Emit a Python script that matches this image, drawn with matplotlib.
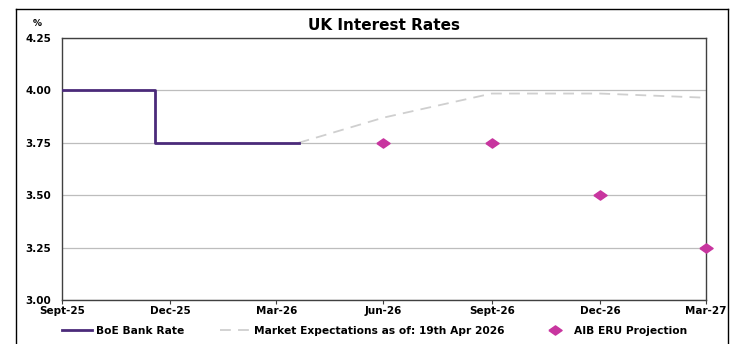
import matplotlib.pyplot as plt
from matplotlib.lines import Line2D
import pandas as pd

# BoE bank rate (actual)
boe_dates = pd.to_datetime(["2025-09-30", "2025-12-18", "2026-04-19"])
boe_rate = [4.00, 3.75, 3.75]

# market implied path as of 19 Apr 2026
mkt_dates = pd.to_datetime(["2026-04-19", "2026-06-30", "2026-09-30", "2026-12-31", "2027-03-31"])
mkt_rate = [3.75, 3.87, 3.985, 3.985, 3.965]

# AIB ERU projections
aib_dates = pd.to_datetime(["2026-06-30", "2026-09-30", "2026-12-31", "2027-03-31"])
aib_rate = [3.75, 3.75, 3.50, 3.25]

tick_dates = pd.to_datetime(["2025-09-30", "2025-12-31", "2026-03-31", "2026-06-30",
                             "2026-09-30", "2026-12-31", "2027-03-31"])
tick_labels = ["Sept-25", "Dec-25", "Mar-26", "Jun-26", "Sept-26", "Dec-26", "Mar-27"]
y_ticks = [3.00, 3.25, 3.50, 3.75, 4.00, 4.25]

plt.rcParams['font.family'] = ['DejaVu Sans']
plt.rcParams['font.weight'] = 'bold'

# flattened diamond like the original marker
flat_diamond = [(-1, 0), (0, 0.7), (1, 0), (0, -0.7), (-1, 0)]

fig = plt.figure(figsize=(7.4, 3.44), dpi=100)
ax = fig.add_axes([62 / 740, 1 - 300 / 344, (706 - 62) / 740, (300 - 38) / 344])

ax.plot(boe_dates, boe_rate, drawstyle='steps-post', color='#4b2a7a', lw=2,
        label='BoE Bank Rate', zorder=3)
ax.plot(mkt_dates, mkt_rate, color='#cfcfcf', lw=1.3, dashes=(6, 4),
        label='Market Expectations as of: 19th Apr 2026', zorder=2)
ax.plot(aib_dates, aib_rate, ls='none', marker=flat_diamond, ms=9.5, color='#c8359f',
        label='AIB ERU Projection', zorder=4, clip_on=False)

ax.set_xlim(tick_dates[0], tick_dates[-1])
ax.set_ylim(3.0, 4.25)
ax.set_xticks(tick_dates)
ax.set_xticklabels(tick_labels, fontsize=7.5, fontweight='bold')
ax.set_yticks(y_ticks)
ax.set_yticklabels([f"{v:.2f}" for v in y_ticks], fontsize=7.5, fontweight='bold')
ax.tick_params(axis='y', length=0, pad=8)
ax.tick_params(axis='x', length=3, width=0.8, color='#404040', pad=1.5)
ax.grid(axis='y', color='#bdbdbd', lw=0.9)
ax.set_axisbelow(True)
for s in ax.spines.values():
    s.set_color('#404040')
    s.set_linewidth(1)

ax.set_title("UK Interest Rates", fontsize=11, fontweight='bold', pad=6)
fig.text(37 / 740, 1 - 24 / 344, "%", fontsize=6.5, fontweight='bold', ha='center', va='center')

leg = ax.legend(loc='center left', bbox_to_anchor=(0.0, -0.118), ncol=3, frameon=False,
                fontsize=7.7, handlelength=2.8, columnspacing=3.3, handletextpad=0.4,
                borderaxespad=0, borderpad=0)
for t in leg.get_texts():
    t.set_fontweight('bold')

# outer frame around the chart
fig.add_artist(Line2D([16 / 740, 16 / 740], [0, 1 - 9 / 344], color='black', lw=1))
fig.add_artist(Line2D([16 / 740, 728 / 740], [1 - 9 / 344, 1 - 9 / 344], color='black', lw=1))
fig.add_artist(Line2D([728 / 740, 728 / 740], [0, 1 - 9 / 344], color='black', lw=1))

fig.savefig("out.png", dpi=100)
